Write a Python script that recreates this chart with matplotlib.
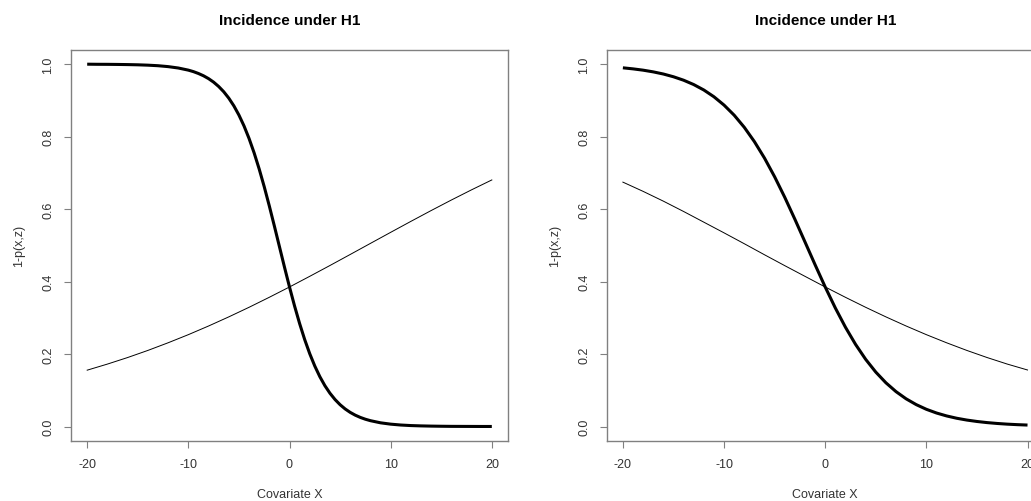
import matplotlib
matplotlib.use("Agg")
import matplotlib.pyplot as plt

plt.rcParams["font.family"] = ["Liberation Sans", "DejaVu Sans"]

# Covariate grids
x_sharp = [-20, -19, -18, -17, -16, -15, -14, -13, -12, -11, -10,
           -9.5, -9, -8.5, -8, -7.5, -7, -6.5, -6, -5.5, -5, -4.5, -4,
           -3.5, -3, -2.5, -2, -1.5, -1, -0.5, 0, 0.5, 1, 1.5, 2, 2.5,
           3, 3.5, 4, 4.5, 5, 5.5, 6, 6.5, 7, 7.5, 8, 9, 10, 11, 12, 13,
           14, 15, 16, 17, 18, 19, 20]
x_unit = list(range(-20, 21))
x_flat = list(range(-20, 21, 2))

# Left panel: sharp (thick) and gentle (thin) incidence curves
left_thick = [1.0000, 0.9997, 0.9996, 0.9993, 0.9989, 0.9983, 0.9973, 0.9958,
              0.9933, 0.9895, 0.9836,
              0.9795, 0.9743, 0.9680, 0.9601, 0.9504, 0.9384, 0.9239, 0.9062,
              0.8850, 0.8596, 0.8298, 0.7951, 0.7555, 0.7110, 0.6620, 0.6092,
              0.5538, 0.4970, 0.4403, 0.3851, 0.3327, 0.2842, 0.2401, 0.2010,
              0.1669, 0.1375, 0.1126, 0.0918, 0.0745, 0.0602, 0.0485, 0.0390,
              0.0313, 0.0251, 0.0201, 0.0161,
              0.0102, 0.0065, 0.0041, 0.0026, 0.0017, 0.0011, 0.0007, 0.0004,
              0.0003, 0.0002, 0.0001, 0.0001]
left_thin = [0.1555, 0.1723, 0.1904, 0.2100, 0.2311, 0.2535, 0.2774, 0.3026,
             0.3290, 0.3566, 0.3851, 0.4145, 0.4444, 0.4748, 0.5054, 0.5359,
             0.5662, 0.5960, 0.6251, 0.6533, 0.6805]

# Right panel
right_thick = [0.9900, 0.9871, 0.9835, 0.9788, 0.9729, 0.9653, 0.9558, 0.9438,
               0.9288, 0.9101, 0.8871, 0.8593, 0.8258, 0.7863, 0.7408, 0.6893,
               0.6327, 0.5722, 0.5095, 0.4465, 0.3851, 0.3272, 0.2741, 0.2267,
               0.1854, 0.1502, 0.1207, 0.0963, 0.0764, 0.0604, 0.0475, 0.0373,
               0.0292, 0.0228, 0.0178, 0.0139, 0.0108, 0.0084, 0.0065, 0.0051,
               0.0040]
right_thin = [0.6745, 0.6490, 0.6220, 0.5935, 0.5640, 0.5345, 0.5045, 0.4740,
              0.4440, 0.4145, 0.3851, 0.3566, 0.3290, 0.3026, 0.2774, 0.2535,
              0.2311, 0.2100, 0.1904, 0.1723, 0.1560]

x_ticks = [-20, -10, 0, 10, 20]
y_ticks = [0.0, 0.2, 0.4, 0.6, 0.8, 1.0]
title = "Incidence under H1"
xlabel = "Covariate X"
ylabel = "1-p(x,z)"

W, H = 1031, 502
fig = plt.figure(figsize=(W / 100, H / 100), dpi=100)

frame_col = "#808080"
text_col = "#333333"

panels = [
    (71, x_sharp, left_thick, left_thin),
    (606.7, x_unit, right_thick, right_thin),
]
ax_w, ax_top, ax_bot = 437, 50.7, 442

for left_px, xs, thick, thin in panels:
    ax = fig.add_axes([left_px / W, (H - ax_bot) / H, ax_w / W, (ax_bot - ax_top) / H])
    ax.plot(x_flat, thin, color="black", lw=0.7)
    ax.plot(xs, thick, color="black", lw=2.2, solid_capstyle="butt")
    ax.set_xlim(-21.6, 21.6)
    ax.set_ylim(-0.04, 1.04)
    ax.set_xticks(x_ticks)
    ax.set_xticklabels([str(t) for t in x_ticks])
    ax.set_yticks(y_ticks)
    ax.set_yticklabels([f"{t:.1f}" for t in y_ticks], rotation=90, va="center")
    for s in ax.spines.values():
        s.set_color(frame_col)
        s.set_linewidth(1.0)
    ax.tick_params(direction="out", length=5, width=0.8, color=frame_col,
                   labelcolor=text_col, labelsize=9, pad=7)
    cx = (left_px + ax_w / 2) / W
    fig.text(cx, 1 - 21 / H, title, ha="center", va="center",
             fontsize=11, fontweight="bold", color="black")
    fig.text(cx, 1 - 495 / H, xlabel, ha="center", va="center",
             fontsize=9, color=text_col)
    fig.text((left_px - 52) / W, (H - 246) / H, ylabel, ha="center", va="center",
             rotation=90, fontsize=9, color=text_col)

fig.savefig("out.png", dpi=100, facecolor="white")
